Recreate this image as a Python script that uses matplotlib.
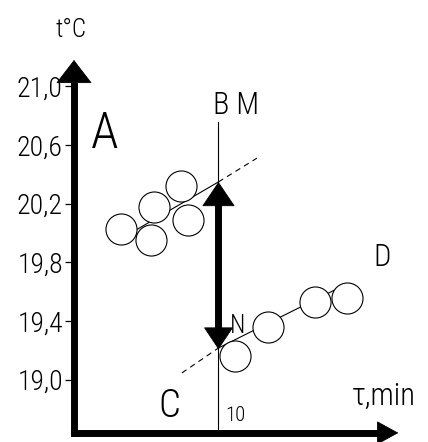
import matplotlib
matplotlib.use("Agg")
import matplotlib.pyplot as plt

# temperature axis
yticks = [19.0, 19.4, 19.8, 20.2, 20.6, 21.0]
ytick_labels = ["19,0", "19,4", "19,8", "20,2", "20,6", "21,0"]

# readings before the process (A-M) and after it (N-D)
t_before = [3.25, 5.33, 5.54, 7.40, 7.89]
temp_before = [20.03, 19.95, 20.18, 20.32, 20.09]
t_after = [11.14, 13.43, 16.68, 18.89]
temp_after = [19.16, 19.36, 19.53, 19.56]

# fitted straight lines, solid part and extrapolated (dashed) part
t_fit_before = [4.29, 10.0]
temp_fit_before = [20.02, 20.348]
t_ext_before = [10.0, 12.66]
temp_ext_before = [20.348, 20.51]
t_fit_after = [10.0, 18.75]
temp_fit_after = [19.216, 19.646]
t_ext_after = [7.47, 10.0]
temp_ext_after = [19.046, 19.216]

t_bm = 10          # time of the jump (vertical line BM)
temp_m = 20.348
temp_n = 19.216

plt.rcParams["font.family"] = ["Roboto Condensed", "DejaVu Sans"]
plt.rcParams["font.weight"] = "light"

fig = plt.figure(figsize=(4.28, 4.42), dpi=100)
ax = fig.add_axes([70.5 / 428, 0, 1 - 70.5 / 428, 1])
ax.set_xlim(-0.242, 24.50)
ax.set_ylim(18.575, 21.588)
for s in ax.spines.values():
    s.set_visible(False)
ax.set_xticks([])
ax.set_yticks(yticks)
ax.set_yticklabels(ytick_labels, fontsize=20)
ax.tick_params(axis="y", length=4.5, width=0.9, pad=1)
ax.patch.set_alpha(0)


def head(tip, base, length, width):
    ax.annotate("", xy=tip, xytext=base,
                arrowprops=dict(arrowstyle="-|>,head_length=%g,head_width=%g" % (length, width),
                                lw=0.6, color="k", shrinkA=0, shrinkB=0,
                                mutation_scale=10), zorder=4)


# axes as thick arrows
ax.plot([0, 0], [18.637, 21.0], color="k", lw=5, solid_capstyle="projecting")
head((0, 21.179), (0, 20.9), 1.58, 1.22)
ax.plot([0, 21.5], [18.637, 18.637], color="k", lw=5, solid_capstyle="projecting")
head((22.45, 18.637), (21.3, 18.637), 1.44, 0.79)

# vertical line BM
ax.plot([t_bm, t_bm], [18.637, 20.757], color="k", lw=0.8)

# fitted lines
ax.plot(t_fit_before, temp_fit_before, color="k", lw=0.8)
ax.plot(t_ext_before, temp_ext_before, color="k", lw=0.8, ls=(0, (5, 4)))
ax.plot(t_fit_after, temp_fit_after, color="k", lw=0.8)
ax.plot(t_ext_after, temp_ext_after, color="k", lw=0.8, ls=(0, (5, 4)))

# measured points
ax.scatter(t_before, temp_before, s=500, facecolor="white", edgecolor="k",
           lw=0.8, zorder=3)
ax.scatter(t_after, temp_after, s=500, facecolor="white", edgecolor="k",
           lw=0.8, zorder=3)

# temperature jump MN
ax.plot([t_bm, t_bm], [temp_n + 0.1, temp_m - 0.1], color="k", lw=5, zorder=4)
head((t_bm, temp_m), (t_bm, temp_m - 0.3), 1.66, 1.12)
head((t_bm, temp_n - 0.01), (t_bm, temp_n + 0.3), 1.5, 1.0)

ax.text(-0.21, 21.384, "t°C", fontsize=18, ha="center", va="center")
ax.text(2.15, 20.675, "A", fontsize=36, ha="center", va="center")
ax.text(11.21, 20.866, "B M", fontsize=22, ha="center", va="center")
ax.text(6.57, 18.821, "C", fontsize=28, ha="center", va="center")
ax.text(21.31, 19.836, "D", fontsize=22, ha="center", va="center")
ax.text(11.35, 19.366, "N", fontsize=18, ha="center", va="center", zorder=5)
ax.text(11.14, 18.759, "10", fontsize=15, ha="center", va="center")
ax.text(19.24, 18.828, "τ,min", fontsize=22, ha="left", va="baseline")

fig.savefig("out.png", dpi=100)
